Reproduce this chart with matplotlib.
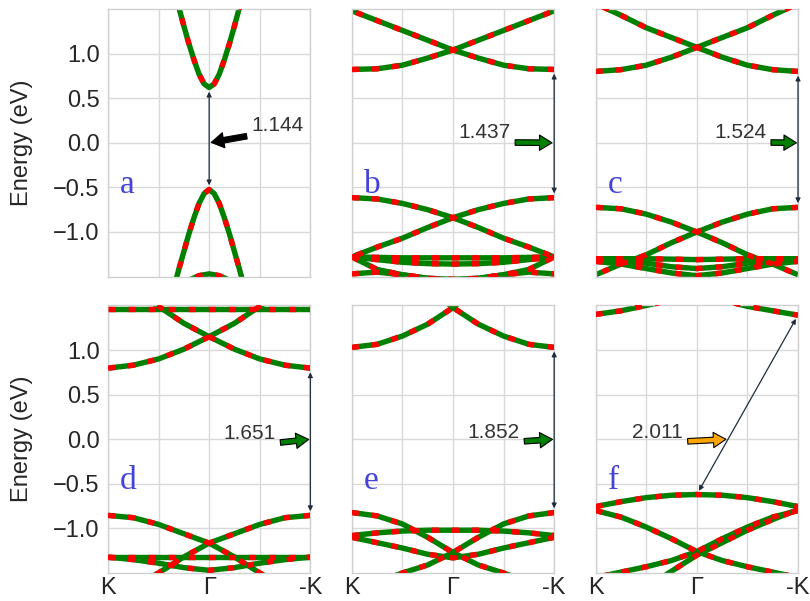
import numpy as np
import matplotlib
matplotlib.use("Agg")
import matplotlib.pyplot as plt

plt.rcParams['font.family'] = ['Liberation Sans', 'DejaVu Sans']

# k-path sampling (K -> Gamma -> -K mapped to -1 .. 1)
k_path = [-1.0, -0.75, -0.5, -0.25, 0.0, 0.25, 0.5, 0.75, 1.0]
k_zoom = [-0.4, -0.35, -0.3, -0.25, -0.2, -0.15, -0.1, -0.05, 0.0,
          0.05, 0.1, 0.15, 0.2, 0.25, 0.3, 0.35, 0.4]
k_deep = [-0.3, -0.2, -0.1, 0.0, 0.1, 0.2, 0.3]

# (a) direct gap at Gamma
a_cb = [1.96, 1.74, 1.52, 1.31, 1.11, 0.93, 0.77, 0.66, 0.62,
        0.66, 0.77, 0.93, 1.11, 1.31, 1.52, 1.74, 1.96]
a_vb = [-1.84, -1.63, -1.42, -1.22, -1.02, -0.84, -0.68, -0.57, -0.524,
        -0.57, -0.68, -0.84, -1.02, -1.22, -1.42, -1.63, -1.84]
a_deep = [-1.62, -1.54, -1.49, -1.47, -1.49, -1.54, -1.62]

# (b) bands listed from K to -K; "pair" bands are also drawn mirrored
b_cb = [0.822, 0.83, 0.87, 0.95, 1.04, 1.15, 1.26, 1.37, 1.48]
b_vb = [-0.615, -0.63, -0.68, -0.75, -0.84, -0.95, -1.07, -1.17, -1.28]
b_flat = [-1.28, -1.285, -1.29, -1.29, -1.29, -1.29, -1.29, -1.285, -1.28]
b_lens = [-1.28, -1.31, -1.34, -1.355, -1.36, -1.355, -1.34, -1.31, -1.28]
b_dive = [-1.28, -1.42, -1.48, -1.52, -1.53, -1.52, -1.48, -1.42, -1.28]
b_low = [-1.47, -1.45, -1.48, -1.52, -1.54, -1.52, -1.48, -1.45, -1.47]

# (c)
c_cb = [0.80, 0.82, 0.87, 0.96, 1.07, 1.18, 1.29, 1.43, 1.56]
c_vb = [-0.724, -0.74, -0.80, -0.89, -1.0, -1.12, -1.256, -1.36, -1.48]
c_flat = [-1.30, -1.30, -1.30, -1.305, -1.31, -1.305, -1.30, -1.30, -1.30]
c_lens = [-1.31, -1.33, -1.35, -1.39, -1.41, -1.39, -1.35, -1.33, -1.31]
c_low = [-1.33, -1.36, -1.41, -1.46, -1.49, -1.46, -1.41, -1.36, -1.33]

# (d)
d_cb = [0.797, 0.83, 0.90, 1.01, 1.15, 1.30, 1.49, 1.66, 1.82]
d_top = [1.457, 1.457, 1.457, 1.457, 1.457, 1.457, 1.457, 1.457, 1.457]
d_vb = [-0.854, -0.88, -0.955, -1.06, -1.165, -1.32, -1.50, -1.65, -1.80]
d_flat = [-1.322, -1.322, -1.322, -1.322, -1.322, -1.322, -1.322, -1.322, -1.322]
d_lens = [-1.322, -1.35, -1.39, -1.44, -1.47, -1.44, -1.39, -1.35, -1.322]

# (e)
e_cb = [1.03, 1.064, 1.157, 1.29, 1.476, 1.70, 1.95, 2.2, 2.4]
e_vb = [-0.822, -0.86, -0.95, -1.10, -1.27, -1.41, -1.50, -1.60, -1.70]
e_flat = [-1.08, -1.05, -1.03, -1.02, -1.02, -1.02, -1.03, -1.05, -1.08]
e_vee = [-1.10, -1.16, -1.22, -1.29, -1.33, -1.29, -1.22, -1.16, -1.10]

# (f) indirect gap Gamma -> -K
f_cb = [1.40, 1.44, 1.50, 1.56, 1.60, 1.56, 1.49, 1.44, 1.391]
f_vb = [-0.755, -0.70, -0.655, -0.628, -0.62, -0.628, -0.655, -0.70, -0.755]
f_cross = [-0.80, -0.873, -0.985, -1.116, -1.26, -1.36, -1.43, -1.49, -1.55]
f_steep = [-1.90, -1.70, -1.66, -1.48, -1.30, -1.16, -1.02, -0.90, -0.79]

# gap annotations
gaps = [1.144, 1.437, 1.524, 1.651, 1.852, 2.011]
vbm_k = [0.0, 1.0, 1.0, 1.0, 1.0, 0.0]
vbm_e = [-0.524, -0.615, -0.724, -0.854, -0.822, -0.62]
cbm_k = [0.0, 1.0, 1.0, 1.0, 1.0, 1.0]
pointer_k = [0.0, 1.0, 1.0, 1.0, 1.0, 0.31]
label_pos = [(0.42, 0.19), (0.565, 0.11), (0.69, 0.11),
             (0.66, 0.064), (0.66, 0.08), (-0.14, 0.08)]
label_ha = ['left', 'right', 'right', 'right', 'right', 'right']
pointer_colors = ['black', 'green', 'green', 'green', 'green', 'orange']
letters = ['a', 'b', 'c', 'd', 'e', 'f']


def draw_band(ax, k, e, pair=False):
    k = np.asarray(k)
    for kk in ([k, -k] if pair else [k]):
        ax.plot(kk, e, color='green', lw=3.9, solid_capstyle='butt', zorder=2)
        ax.plot(kk, e, color='red', lw=3.9, dashes=(1.3, 2.4), zorder=3)


fig, axes = plt.subplots(2, 3, figsize=(8.1, 6.01), dpi=100)
fig.subplots_adjust(left=0.1333, right=0.9852, top=0.985, bottom=0.0466,
                    wspace=0.205, hspace=0.108)

bands = [
    [(k_zoom, a_cb, False), (k_zoom, a_vb, False), (k_deep, a_deep, False)],
    [(k_path, b_cb, True), (k_path, b_vb, True), (k_path, b_flat, False),
     (k_path, b_lens, False), (k_path, b_dive, False), (k_path, b_low, False)],
    [(k_path, c_cb, True), (k_path, c_vb, True), (k_path, c_flat, False),
     (k_path, c_lens, False), (k_path, c_low, False)],
    [(k_path, d_cb, True), (k_path, d_top, False), (k_path, d_vb, True),
     (k_path, d_flat, False), (k_path, d_lens, False)],
    [(k_path, e_cb, True), (k_path, e_vb, True), (k_path, e_flat, False),
     (k_path, e_vee, False)],
    [(k_path, f_cb, False), (k_path, f_vb, False), (k_path, f_cross, True),
     (k_path, f_steep, False)],
]

for i, ax in enumerate(axes.flat):
    ax.set_facecolor('white')
    for k, e, pair in bands[i]:
        draw_band(ax, k, e, pair)

    ax.set_xlim(-1, 1)
    ax.set_ylim(-1.5, 1.5)
    ax.set_xticks([-1, 0, 1])
    ax.set_xticks([-0.5, 0.5], minor=True)
    ax.set_yticks([-1.0, -0.5, 0.0, 0.5, 1.0])
    ax.grid(True, which='both', color='#d9d9d9', lw=1.0, zorder=0)
    ax.set_axisbelow(True)
    ax.tick_params(which='both', length=0, labelsize=17, pad=6,
                   colors='#262626')
    for sp in ax.spines.values():
        sp.set_color('#d0d0d0')
        sp.set_linewidth(1.0)

    row, col = divmod(i, 3)
    if row == 1:
        ax.set_xticklabels(['K', 'Γ', '-K'])
        ax.tick_params(axis='x', pad=3)
    else:
        ax.set_xticklabels([])
    if col == 0:
        ax.set_ylabel('Energy (eV)', fontsize=17, color='#262626')
        ax.yaxis.set_label_coords(-0.37, 0.5)
    else:
        ax.set_yticklabels([])

    # band gap arrow
    gap = gaps[i]
    ax.annotate('', xy=(cbm_k[i], vbm_e[i] + gap), xytext=(vbm_k[i], vbm_e[i]),
                arrowprops=dict(arrowstyle='<|-|>', color='#1f2d3d', lw=0.9,
                                mutation_scale=7, shrinkA=3, shrinkB=3),
                zorder=4)

    # pointer with the gap value
    ax.annotate(f'{gap:.3f}', xy=(pointer_k[i], 0.0), xytext=label_pos[i],
                fontsize=15, color='#333333', ha=label_ha[i], va='center',
                arrowprops=dict(facecolor=pointer_colors[i], edgecolor='black',
                                lw=0.8, width=4, headwidth=11, headlength=9,
                                shrink=0.05),
                zorder=5)

    ax.text(-0.88, -0.56, letters[i], fontsize=24, color='#4343d8',
            family='Liberation Serif', ha='left', va='baseline', zorder=5)

fig.savefig('out.png', dpi=100)
